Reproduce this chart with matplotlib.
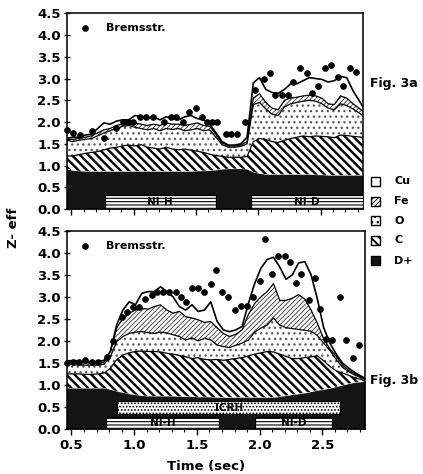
import matplotlib
matplotlib.use('Agg')
import matplotlib.pyplot as plt
from matplotlib.patches import Rectangle
from matplotlib.ticker import MultipleLocator, FormatStrFormatter

# sample times (sec)
time = [0.46, 0.51, 0.56, 0.61, 0.66, 0.71, 0.76, 0.81, 0.86, 0.91,
        0.96, 1.01, 1.06, 1.11, 1.16, 1.21, 1.26, 1.31, 1.36, 1.41,
        1.46, 1.51, 1.56, 1.61, 1.66, 1.71, 1.76, 1.81, 1.86, 1.91,
        1.96, 2.01, 2.06, 2.11, 2.16, 2.21, 2.26, 2.31, 2.36, 2.41,
        2.46, 2.51, 2.56, 2.61, 2.66, 2.71, 2.76, 2.84]

# Fig. 3a - cumulative tops of each layer
a_dplus = [0.93, 0.89, 0.88, 0.87, 0.87, 0.87, 0.87, 0.87, 0.87, 0.87,
           0.87, 0.87, 0.87, 0.87, 0.87, 0.87, 0.87, 0.87, 0.87, 0.87,
           0.87, 0.88, 0.88, 0.89, 0.90, 0.92, 0.93, 0.93, 0.93, 0.92,
           0.85, 0.82, 0.80, 0.80, 0.80, 0.80, 0.80, 0.80, 0.80, 0.80,
           0.79, 0.79, 0.78, 0.78, 0.78, 0.78, 0.78, 0.78]
a_c = [1.22, 1.22, 1.25, 1.28, 1.30, 1.32, 1.36, 1.40, 1.42, 1.45,
       1.47, 1.45, 1.48, 1.42, 1.40, 1.38, 1.42, 1.38, 1.36, 1.38,
       1.35, 1.33, 1.30, 1.26, 1.23, 1.21, 1.19, 1.19, 1.19, 1.21,
       1.55, 1.62, 1.60, 1.55, 1.53, 1.58, 1.62, 1.65, 1.68, 1.66,
       1.68, 1.67, 1.66, 1.64, 1.70, 1.69, 1.67, 1.65]
a_o = [1.58, 1.55, 1.58, 1.60, 1.62, 1.68, 1.75, 1.80, 1.85, 1.90,
       1.92, 1.88, 1.85, 1.82, 1.85, 1.80, 1.85, 1.83, 1.85, 1.80,
       1.82, 1.85, 1.80, 1.82, 1.65, 1.48, 1.42, 1.42, 1.44, 1.50,
       2.40, 2.45, 2.30, 2.18, 2.15, 2.35, 2.42, 2.45, 2.48, 2.50,
       2.48, 2.42, 2.32, 2.28, 2.42, 2.38, 2.30, 2.15]
a_fe = [1.60, 1.60, 1.62, 1.65, 1.68, 1.75, 1.82, 1.85, 1.92, 1.95,
        2.00, 1.98, 1.95, 1.92, 1.95, 1.92, 1.98, 1.95, 1.95, 1.92,
        1.95, 1.98, 1.92, 1.90, 1.72, 1.52, 1.45, 1.45, 1.47, 1.55,
        2.55, 2.65, 2.45, 2.32, 2.28, 2.50, 2.55, 2.57, 2.60, 2.62,
        2.60, 2.55, 2.42, 2.40, 2.60, 2.55, 2.42, 2.25]
a_cu = [1.62, 1.65, 1.65, 1.70, 1.72, 1.85, 1.98, 1.95, 2.02, 2.05,
        2.05, 2.15, 2.12, 2.08, 2.12, 2.05, 2.12, 2.08, 2.05, 2.12,
        2.15, 2.08, 2.05, 1.95, 1.75, 1.55, 1.47, 1.47, 1.50, 1.65,
        2.90, 3.02, 2.75, 2.68, 2.66, 2.75, 2.88, 2.88, 2.95, 3.02,
        3.00, 2.98, 2.92, 2.95, 3.05, 3.02, 2.72, 2.35]
a_brems_t = [0.463, 0.511, 0.569, 0.662, 0.76, 0.861, 0.914, 0.954, 0.994, 1.047,
             1.10, 1.153, 1.246, 1.299, 1.339, 1.392, 1.445, 1.498, 1.546, 1.591,
             1.631, 1.671, 1.737, 1.777, 1.830, 1.896, 1.976, 2.043, 2.096, 2.136,
             2.189, 2.237, 2.282, 2.335, 2.388, 2.428, 2.481, 2.534, 2.582, 2.640,
             2.680, 2.733, 2.786]
a_brems_v = [1.82, 1.74, 1.70, 1.80, 1.63, 1.86, 2.00, 2.00, 2.00, 2.12,
             2.12, 2.12, 2.00, 2.12, 2.12, 2.00, 2.24, 2.32, 2.12, 2.00,
             2.00, 2.00, 1.72, 1.72, 1.72, 2.00, 2.74, 3.00, 3.12, 2.62,
             2.62, 2.62, 2.93, 3.24, 3.12, 2.66, 2.83, 3.24, 3.31, 3.04,
             2.83, 3.24, 3.16]

# Fig. 3b
b_dplus = [0.93, 0.93, 0.93, 0.93, 0.93, 0.93, 0.93, 0.90, 0.86, 0.83,
           0.80, 0.78, 0.76, 0.75, 0.75, 0.75, 0.75, 0.75, 0.74, 0.74,
           0.74, 0.73, 0.73, 0.73, 0.72, 0.72, 0.72, 0.72, 0.72, 0.72,
           0.72, 0.72, 0.72, 0.72, 0.74, 0.76, 0.78, 0.80, 0.82, 0.85,
           0.88, 0.90, 0.93, 0.96, 1.00, 1.03, 1.06, 1.08]
b_c = [1.25, 1.25, 1.25, 1.24, 1.24, 1.25, 1.27, 1.38, 1.57, 1.68,
       1.73, 1.76, 1.77, 1.76, 1.76, 1.75, 1.72, 1.70, 1.67, 1.64,
       1.60, 1.62, 1.58, 1.57, 1.58, 1.56, 1.58, 1.60, 1.62, 1.66,
       1.70, 1.73, 1.76, 1.75, 1.70, 1.65, 1.60, 1.60, 1.62, 1.64,
       1.66, 1.55, 1.42, 1.32, 1.27, 1.22, 1.16, 1.10]
b_o = [1.47, 1.46, 1.45, 1.45, 1.45, 1.45, 1.47, 1.64, 1.98, 2.10,
       2.17, 2.20, 2.21, 2.19, 2.17, 2.20, 2.18, 2.14, 2.10, 2.02,
       2.07, 2.00, 2.06, 2.02, 1.91, 1.87, 1.85, 1.90, 1.95, 2.02,
       2.20, 2.29, 2.36, 2.52, 2.36, 2.30, 2.28, 2.26, 2.24, 2.22,
       2.12, 1.95, 1.78, 1.58, 1.40, 1.30, 1.22, 1.13]
b_fe = [1.52, 1.52, 1.52, 1.50, 1.50, 1.50, 1.52, 1.76, 2.29, 2.52,
        2.63, 2.70, 2.74, 2.72, 2.78, 2.82, 2.70, 2.63, 2.67, 2.55,
        2.52, 2.48, 2.42, 2.44, 2.30, 2.17, 2.10, 2.15, 2.25, 2.60,
        2.85, 3.00, 3.12, 3.30, 2.92, 2.92, 2.97, 3.05, 2.95, 2.70,
        2.40, 2.05, 1.82, 1.65, 1.45, 1.33, 1.25, 1.14]
b_cu = [1.55, 1.55, 1.55, 1.53, 1.53, 1.53, 1.56, 1.76, 2.36, 2.70,
        2.89, 2.82, 3.08, 3.12, 3.12, 3.23, 3.12, 3.00, 2.78, 2.70,
        2.82, 2.67, 2.70, 2.89, 2.45, 2.25, 2.21, 2.25, 2.33, 2.85,
        3.30, 3.65, 3.85, 3.90, 3.68, 3.40, 3.50, 3.77, 3.80, 3.50,
        2.95, 2.30, 1.95, 1.70, 1.50, 1.38, 1.28, 1.15]
b_brems_t = [0.463, 0.51, 0.56, 0.61, 0.66, 0.71, 0.78, 0.83, 0.90, 0.94,
             0.99, 1.04, 1.09, 1.14, 1.18, 1.23, 1.28, 1.33, 1.37, 1.41,
             1.46, 1.51, 1.56, 1.61, 1.65, 1.70, 1.75, 1.80, 1.85, 1.90,
             1.95, 2.00, 2.04, 2.10, 2.15, 2.20, 2.24, 2.29, 2.33, 2.39,
             2.44, 2.48, 2.53, 2.58, 2.64, 2.69, 2.74, 2.79]
b_brems_v = [1.49, 1.53, 1.53, 1.57, 1.53, 1.53, 1.64, 2.00, 2.55, 2.65,
             2.78, 2.78, 2.95, 3.05, 3.12, 3.12, 3.12, 3.10, 3.00, 2.89,
             3.20, 3.20, 3.12, 3.29, 3.61, 3.12, 3.00, 2.70, 2.80, 2.80,
             3.00, 3.35, 4.32, 3.52, 3.93, 3.92, 3.80, 3.31, 3.52, 2.92,
             3.42, 2.72, 2.05, 2.02, 3.00, 2.02, 1.61, 1.91]

# beam / heating bars: (label, start, end, bottom, top)
a_bars = [('NI-H', 0.768, 1.658, 0.0, 0.32), ('NI-D', 1.94, 2.84, 0.0, 0.32)]
b_bars = [('NI-H', 0.776, 1.676, 0.0, 0.28), ('NI-D', 1.963, 2.58, 0.0, 0.28),
          ('ICRH', 0.866, 2.64, 0.33, 0.64)]

legend_labels = ['Cu', 'Fe', 'O', 'C', 'D+']

plt.rcParams['font.family'] = 'DejaVu Sans'
plt.rcParams['font.weight'] = 'bold'

BLACK = '#141414'
styles = {
    'D+': dict(facecolor=BLACK, hatch=None, hcol=BLACK, hlw=1.0),
    'C': dict(facecolor='white', hatch='\\\\\\\\', hcol='black', hlw=1.7),
    'O': dict(facecolor='white', hatch='...', hcol='#555555', hlw=0.9),
    'Fe': dict(facecolor='white', hatch='///////', hcol='#3a3a3a', hlw=0.6),
    'Cu': dict(facecolor='white', hatch=None, hcol='black', hlw=1.0),
}


def layer(ax, lo, hi, name):
    st = styles[name]
    with plt.rc_context({'hatch.linewidth': st['hlw']}):
        ax.fill_between(time, lo, hi, facecolor=st['facecolor'],
                        edgecolor=st['hcol'], hatch=st['hatch'], lw=0, zorder=2)


def panel(ax, d, c, o, fe, cu, bt, bv, bars):
    layer(ax, 0, d, 'D+')
    layer(ax, d, c, 'C')
    layer(ax, c, o, 'O')
    layer(ax, o, fe, 'Fe')
    for top in (c, o, fe):
        ax.plot(time, top, color='black', lw=0.9, zorder=3)
    ax.plot(time, cu, color='black', lw=1.2, zorder=3)
    ax.plot(bt, bv, 'o', color='black', ms=3.8, zorder=4, clip_on=False)
    with plt.rc_context({'hatch.linewidth': 0.8}):
        for lab, t0, t1, y0, y1 in bars:
            h = '.....' if lab == 'ICRH' else '-----'
            ax.add_patch(Rectangle((t0, y0), t1 - t0, y1 - y0, facecolor='white',
                                   edgecolor='black', hatch=h, lw=0.9, zorder=5))
            ax.text((t0 + t1) / 2, (y0 + y1) / 2, lab, ha='center', va='center',
                    fontsize=7.5, fontweight='bold', zorder=6)
    ax.plot([0.062], [0.925], 'o', color='black', ms=3.8, transform=ax.transAxes)
    ax.text(0.132, 0.925, 'Bremsstr.', transform=ax.transAxes, fontsize=8,
            fontweight='bold', va='center', ha='left')
    ax.set_xlim(0.463, 2.84)
    ax.set_ylim(0, 4.5)
    ax.yaxis.set_major_locator(MultipleLocator(0.5))
    ax.yaxis.set_major_formatter(FormatStrFormatter('%.1f'))
    ax.xaxis.set_major_locator(MultipleLocator(0.5))
    ax.xaxis.set_minor_locator(MultipleLocator(0.1))
    ax.xaxis.set_major_formatter(FormatStrFormatter('%.1f'))
    ax.tick_params(axis='y', direction='inout', length=5, width=1, labelsize=9.5, pad=2)
    ax.tick_params(axis='x', which='major', direction='out', length=4, width=1, labelsize=9.5)
    ax.tick_params(axis='x', which='minor', direction='out', length=2.5, width=0.8)
    for s in ax.spines.values():
        s.set_linewidth(1.1)


fig = plt.figure(figsize=(4.23, 4.74), dpi=100)
ax1 = fig.add_axes([0.158, 0.559, 0.700, 0.413])
ax2 = fig.add_axes([0.158, 0.095, 0.705, 0.418])

panel(ax1, a_dplus, a_c, a_o, a_fe, a_cu, a_brems_t, a_brems_v, a_bars)
panel(ax2, b_dplus, b_c, b_o, b_fe, b_cu, b_brems_t, b_brems_v, b_bars)
ax1.tick_params(axis='x', labelbottom=False)

fig.text(0.875, 0.823, 'Fig. 3a', fontsize=9, fontweight='bold', va='center')
fig.text(0.875, 0.198, 'Fig. 3b', fontsize=9, fontweight='bold', va='center')
fig.text(0.031, 0.519, 'Z- eff', rotation=90, fontsize=9.5, fontweight='bold',
         ha='center', va='center')
fig.text(0.487, 0.016, 'Time (sec)', fontsize=9.5, fontweight='bold',
         ha='center', va='center')

# legend boxes
leg_y = [181, 201, 220.5, 240.5, 260.5]
for lab, yp in zip(legend_labels, leg_y):
    st = styles[lab]
    yf = 1 - yp / 474
    with plt.rc_context({'hatch.linewidth': min(st['hlw'], 1.4)}):
        fig.add_artist(Rectangle((371 / 423, yf - 4.5 / 474), 8.5 / 423, 9 / 474,
                                 transform=fig.transFigure, facecolor=st['facecolor'],
                                 edgecolor='black', hatch=st['hatch'], lw=1.0))
    fig.text(394 / 423, yf, lab, fontsize=8, fontweight='bold', va='center', ha='left')

fig.savefig('out.png', dpi=100)
